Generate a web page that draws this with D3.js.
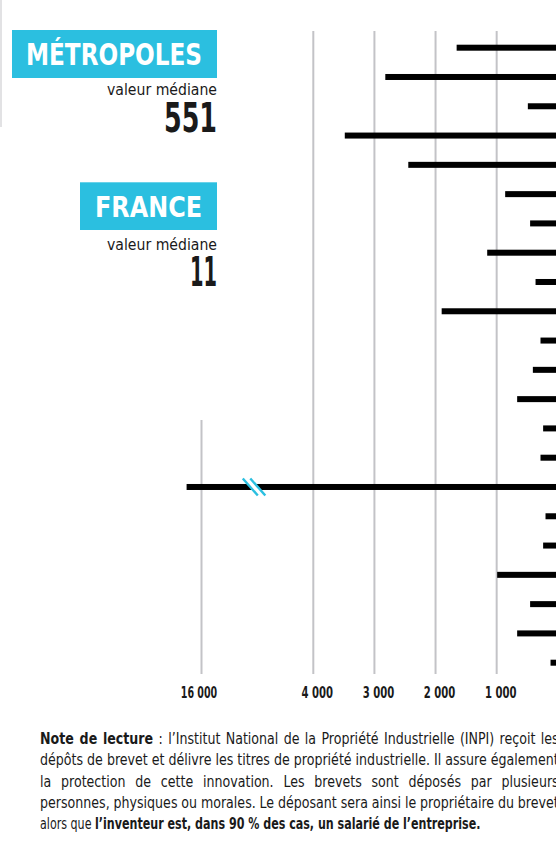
<!DOCTYPE html>
<html>
<head>
<meta charset="utf-8">
<script src="https://cdn.jsdelivr.net/npm/d3@7"></script>
<style>
  html, body { margin: 0; padding: 0; background: #fff; overflow: hidden; }
  svg { display: block; }
</style>
</head>
<body>
<script>
// ---------------- DATA ----------------
const categories = ["M01","M02","M03","M04","M05","M06","M07","M08","M09","M10","M11",
                    "M12","M13","M14","M15","M16","M17","M18","M19","M20","M21","M22"];
const values = [1655, 2822, 490, 3485, 2446, 861, 453, 1155, 364, 1900, 283,
                408, 665, 240, 283, 17600, 201, 240, 992, 453, 665, 119];
const tickValues = [16000, 4000, 3000, 2000, 1000];
const tickLabels = ["16 000", "4 000", "3 000", "2 000", "1 000"];
const groupTitles = ["MÉTROPOLES", "FRANCE"];
const medianLabel = "valeur médiane";
const medianValues = ["551", "11"];
const noteLines = [
  [["Note de lecture", true], [" : l’Institut National de la Propriété Industrielle (INPI) reçoit les", false]],
  [["dépôts de brevet et délivre les titres de propriété industrielle. Il assure également", false]],
  [["la protection de cette innovation. Les brevets sont déposés par plusieurs", false]],
  [["personnes, physiques ou morales. Le déposant sera ainsi le propriétaire du brevet", false]],
  [["alors que ", false], ["l’inventeur est, dans 90 % des cas, un salarié de l’entreprise.", true]]
];

// ---------------- FONT PICK ----------------
function hasFont(name) {
  const c = document.createElement("canvas").getContext("2d");
  const s = "abcdefghijklmnopqrstuvwxyzWMi0123";
  c.font = "40px monospace"; const w1 = c.measureText(s).width;
  c.font = `40px "${name}", monospace`; const w2 = c.measureText(s).width;
  c.font = "40px serif"; const w3 = c.measureText(s).width;
  c.font = `40px "${name}", serif`; const w4 = c.measureText(s).width;
  return w1 !== w2 || w3 !== w4;
}
const FONT = (["Liberation Sans Narrow", "DejaVu Sans Condensed", "Roboto Condensed", "Arial Narrow"]
  .find(hasFont) || "Roboto");

// ---------------- LAYOUT ----------------
const W = 556, H = 855;
const CYAN = "#2bbfe0", INK = "#1a1a1a", GRID = "#c3c3c7";

const svg = d3.select("body").append("svg").attr("width", W).attr("height", H)
  .style("font-family", `"${FONT}", sans-serif`);
svg.append("rect").attr("width", W).attr("height", H).attr("fill", "#fff");

// broken (piecewise) horizontal scale, zero at right edge
const x = d3.scaleLinear().domain([0, 4000, 16000]).range([557.8, 313.3, 201.5]);
const y = d3.scalePoint().domain(categories).range([47.7, 662.7]);
const gridTop = 31, gridBottom = 674, brokenTop = 420;

// thin left rule
svg.append("line").attr("x1", 1).attr("x2", 1).attr("y1", 0).attr("y2", 127)
  .attr("stroke", "#cfcfd2").attr("stroke-width", 1.2);

// grid lines
svg.append("g").selectAll("line").data(tickValues).join("line")
  .attr("x1", d => x(d)).attr("x2", d => x(d))
  .attr("y1", d => d > 4000 ? brokenTop : gridTop).attr("y2", gridBottom)
  .attr("stroke", GRID).attr("stroke-width", 2);

// tick labels
const tl = svg.append("g").selectAll("text").data(tickValues).join("text")
  .attr("x", d => x(d) + (d > 4000 ? -2.5 : 4))
  .attr("y", 698)
  .attr("text-anchor", "middle")
  .attr("font-size", 16).attr("font-weight", 700).attr("fill", INK)
  .text((d, i) => tickLabels[i]);
tl.each(function(d) {
  const target = d > 4000 ? 36.5 : 31.5;
  this.setAttribute("textLength", target);
  this.setAttribute("lengthAdjust", "spacingAndGlyphs");
});

// bars
const barH = 6;
svg.append("g").selectAll("rect").data(values).join("rect")
  .attr("x", d => x(d))
  .attr("y", (d, i) => y(categories[i]) - barH / 2)
  .attr("width", d => x(0) - x(d))
  .attr("height", barH)
  .attr("fill", "#000");

// axis break marks on bars exceeding the 4 000 range
const bx = x(16000) + 0.47 * (x(4000) - x(16000));
const breaks = svg.append("g");
values.forEach((v, i) => {
  if (v <= 4000) return;
  const cy = y(categories[i]);
  const dx = 7.5, hx = 7.5, hy = 8.5;
  breaks.append("path")
    .attr("d", `M${bx - dx/2 - hx},${cy - hy} L${bx + dx/2 - hx},${cy - hy} L${bx + dx/2 + hx},${cy + hy} L${bx - dx/2 + hx},${cy + hy} Z`)
    .attr("fill", "#fff");
  [-dx/2, dx/2].forEach(o => {
    breaks.append("line")
      .attr("x1", bx + o - hx).attr("y1", cy - hy)
      .attr("x2", bx + o + hx).attr("y2", cy + hy)
      .attr("stroke", CYAN).attr("stroke-width", 2.4);
  });
});

// helper to force width
function fit(sel, w) {
  sel.attr("textLength", w).attr("lengthAdjust", "spacingAndGlyphs");
  return sel;
}

// group headers
const headers = [
  {title: groupTitles[0], box: [12, 30, 205, 48], tx: 26, tb: 65, ts: 30, tw: 176,
   vb: 94.5, median: medianValues[0], mb: 132, mw: 53},
  {title: groupTitles[1], box: [80, 182.3, 137, 47.7], tx: 95, tb: 216.8, ts: 28, tw: 107,
   vb: 249.5, median: medianValues[1], mb: 286, mw: 27}
];
headers.forEach(h => {
  const g = svg.append("g");
  g.append("rect").attr("x", h.box[0]).attr("y", h.box[1])
    .attr("width", h.box[2]).attr("height", h.box[3]).attr("fill", CYAN);
  fit(g.append("text").attr("x", h.tx).attr("y", h.tb)
    .attr("font-size", h.ts).attr("font-weight", 700).attr("fill", "#fff")
    .text(h.title), h.tw);
  fit(g.append("text").attr("x", 217).attr("y", h.vb).attr("text-anchor", "end")
    .attr("font-size", 15.5).attr("fill", INK).text(medianLabel), 110);
  fit(g.append("text").attr("x", 217).attr("y", h.mb).attr("text-anchor", "end")
    .attr("font-size", 40).attr("font-weight", 700).attr("fill", INK).text(h.median), h.mw);
});

// reading note (justified lines)
const noteX = 40, noteW = 519, lastW = 441;
const baselines = [744, 765.3, 786.5, 807.5, 828.6];
const noteG = svg.append("g").attr("fill", INK).attr("font-size", 15.5);
const texts = noteLines.map((segs, i) => {
  const t = noteG.append("text").attr("x", 0).attr("y", 0)
    .attr("transform", `translate(${noteX},${baselines[i]})`)
    .attr("xml:space", "preserve").style("white-space", "pre");
  segs.forEach(([s, b]) => t.append("tspan").attr("font-weight", b ? 700 : 400).text(s));
  return t;
});
// horizontal glyph scale so the tightest (2nd) line spans the full width
const nat = texts.map(t => t.node().getComputedTextLength());
const s = noteW / nat[1];
texts.forEach((t, i) => {
  const full = noteLines[i].map(d => d[0]).join("");
  if (i < noteLines.length - 1) {
    const spaces = (full.match(/ /g) || []).length;
    const extra = (noteW / s - nat[i]) / spaces;
    t.attr("word-spacing", Math.max(extra, -1));
    t.attr("transform", `translate(${noteX},${baselines[i]}) scale(${s},1)`);
  } else {
    const sl = lastW / nat[i];
    t.attr("transform", `translate(${noteX},${baselines[i]}) scale(${sl},1)`);
  }
});
</script>
</body>
</html>
